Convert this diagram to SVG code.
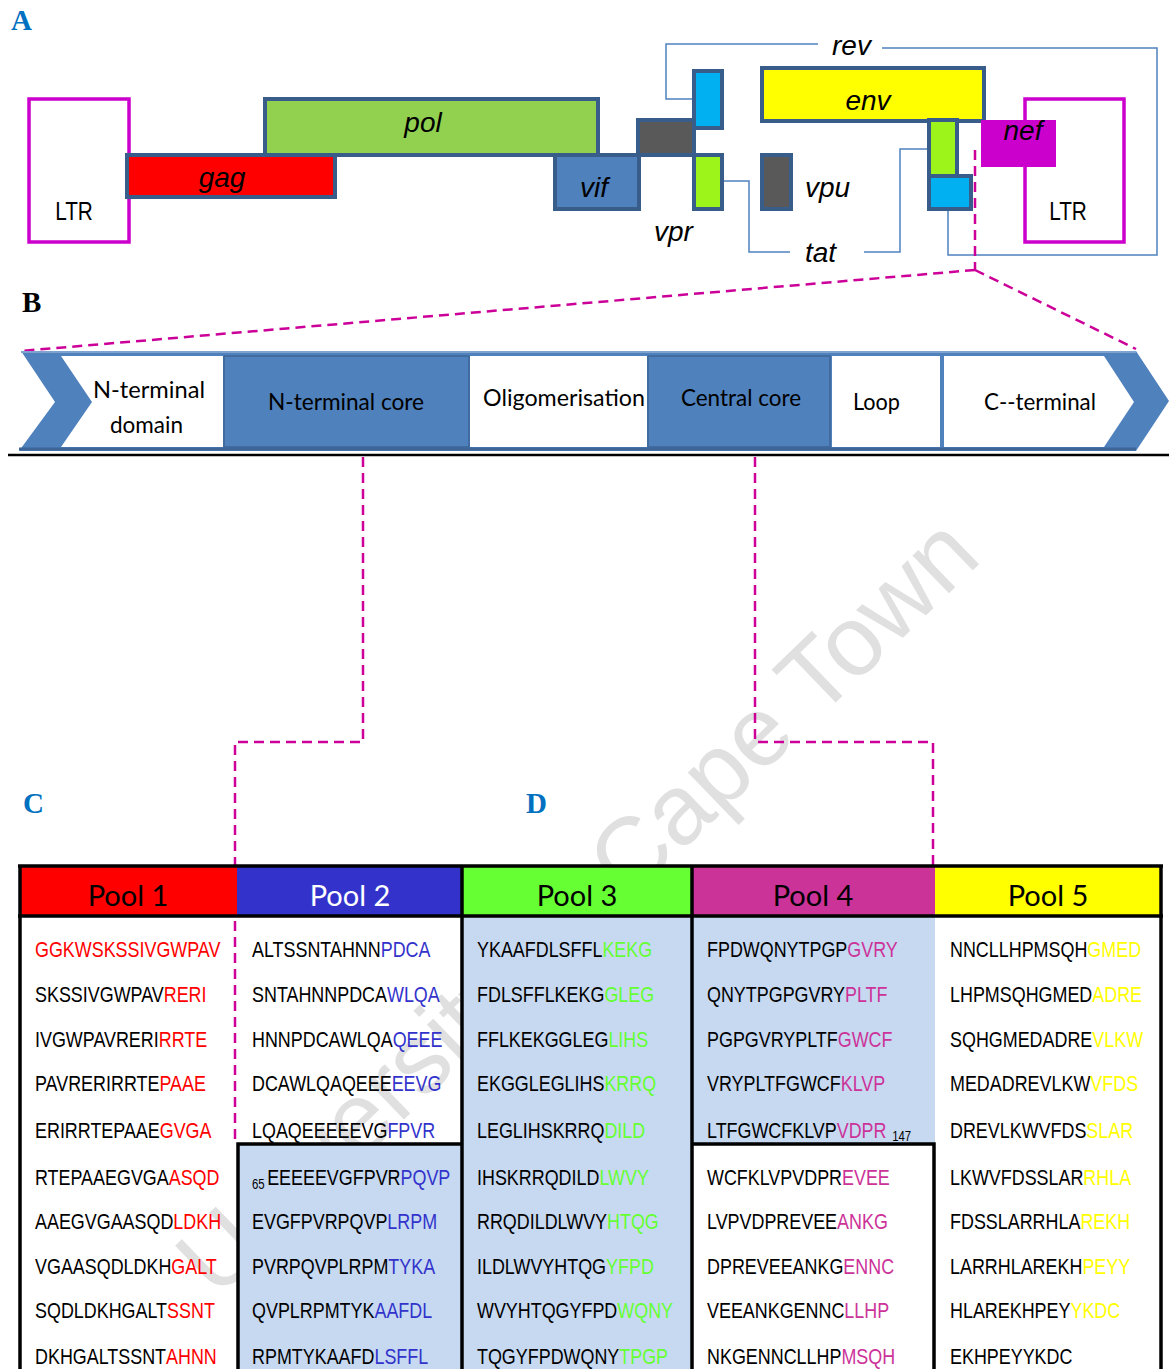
<svg xmlns="http://www.w3.org/2000/svg" width="1169" height="1369" viewBox="0 0 1169 1369">
<defs>
<style>
.gene{stroke:#385D8A;stroke-width:4;}
.ltr{fill:#FFFFFF;stroke:#CC00CC;stroke-width:3.5;}
.gl{font-family:"Liberation Sans",Arial,sans-serif;font-style:italic;font-size:28px;fill:#000;}
.ltrt{font-family:"Liberation Sans",Arial,sans-serif;font-size:26px;fill:#000;}
.conn{fill:none;stroke:#4F81BD;stroke-width:1.5;}
.dash{fill:none;stroke:#CC0099;stroke-width:2.5;stroke-dasharray:10 6;}
.panel{font-family:"Liberation Serif","Times New Roman",serif;font-weight:bold;font-size:29px;}
.bt{font-family:Lato,"Liberation Sans",sans-serif;font-size:23px;fill:#000;}
.hd{font-family:Lato,"Liberation Sans",sans-serif;font-size:29px;text-anchor:middle;}
.sq{font-family:"Liberation Sans",Arial,sans-serif;font-size:22px;fill:#000;}
.sub{font-size:14px;}
.tb{stroke:#000;stroke-width:3.5;fill:none;}
.c1{fill:#FF0000;}.c2{fill:#3333CC;}.c3{fill:#66FF33;}.c4{fill:#CC3399;}.c5{fill:#FFFF00;}
</style>
</defs>
<rect x="0" y="0" width="1169" height="1369" fill="#FFFFFF"/>

<!-- watermark -->
<text transform="translate(217,1300) rotate(-44)" font-family="Liberation Sans,sans-serif" font-size="99" fill="#E0E0E0">University of Cape Town</text>

<!-- panel labels -->
<text class="panel" x="11" y="30" fill="#0070C0">A</text>
<text class="panel" x="22" y="312" fill="#000">B</text>
<text class="panel" x="23" y="813" fill="#0070C0">C</text>
<text class="panel" x="526" y="813" fill="#0070C0">D</text>

<!-- Part A genome -->
<g id="connectors-a">
<polyline class="conn" points="694,99 666,99 666,44 818,44"/>
<polyline class="conn" points="882,48 1157,48 1157,255 948,255 948,209"/>
<polyline class="conn" points="722,181 749,181 749,252 790,252"/>
<polyline class="conn" points="864,252 900,252 900,149 929,149"/>
</g>
<g id="ltr-left"><rect class="ltr" x="29" y="99" width="100" height="143"/><text class="ltrt" transform="translate(74 220) scale(0.8 1)" text-anchor="middle">LTR</text></g>
<g id="pol"><rect class="gene" x="265" y="99" width="333" height="56" fill="#92D050"/><text class="gl" x="423" y="132" text-anchor="middle">pol</text></g>
<g id="gag"><rect class="gene" x="127" y="155" width="208" height="42" fill="#FF0000"/><text class="gl" x="222" y="187" text-anchor="middle">gag</text></g>
<g id="vif"><rect class="gene" x="555" y="155" width="84" height="54" fill="#4F81BD"/><text class="gl" x="594" y="197" text-anchor="middle">vif</text></g>
<g id="grey-box"><rect class="gene" x="638" y="120" width="56" height="35" fill="#595959"/></g>
<g id="rev-exon1"><rect class="gene" x="694" y="71" width="28" height="57" fill="#00B0F0"/></g>
<g id="vpr"><rect class="gene" x="694" y="155" width="28" height="54" fill="#9CF41A"/><text class="gl" x="654" y="241">vpr</text></g>
<g id="vpu"><rect class="gene" x="762" y="155" width="29" height="54" fill="#595959"/><text class="gl" x="805" y="197">vpu</text></g>
<g id="env"><rect class="gene" x="762" y="68" width="222" height="53" fill="#FFFF00"/><text class="gl" x="868" y="110" text-anchor="middle">env</text></g>
<g id="tat-exon2"><rect class="gene" x="929" y="120" width="28" height="56" fill="#9CF41A"/></g>
<g id="rev-exon2"><rect class="gene" x="929" y="176" width="42" height="33" fill="#00B0F0"/></g>
<g id="rev-label"><text class="gl" x="832" y="55">rev</text></g>
<g id="tat-label"><text class="gl" x="805" y="262">tat</text></g>
<g id="ltr-right"><rect class="ltr" x="1025" y="99" width="99" height="143"/><text class="ltrt" transform="translate(1068 220) scale(0.8 1)" text-anchor="middle">LTR</text></g>
<g id="nef"><rect x="981" y="120" width="75" height="47" fill="#CC00CC"/><text class="gl" x="1023" y="140" text-anchor="middle">nef</text></g>

<!-- zoom dashed lines -->
<g id="connectors">
<polyline class="dash" points="975,150 975,270"/>
<polyline class="dash" points="975,270 21,351"/>
<polyline class="dash" points="975,270 1136,349"/>
<polyline class="dash" points="363,457 363,742 235,742 235,1142"/>
<polyline class="dash" points="755,457 755,742 933,742 933,1142"/>
</g>

<!-- Part B band -->
<g id="band">
<polygon points="21,351 1136,351 1169,401 1136,451 19,451 55,402" fill="#4F81BD"/>
<line x1="21" y1="352" x2="1136" y2="352" stroke="#7FA3D1" stroke-width="2"/>
<line x1="19" y1="449" x2="1136" y2="449" stroke="#3D6597" stroke-width="3"/>
</g>
<g id="n-terminal-domain"><polygon points="61,356 223,356 223,447 61,447 92,402" fill="#FFFFFF"/>
<text class="bt" x="93" y="398" textLength="112" lengthAdjust="spacingAndGlyphs">N-terminal</text>
<text class="bt" x="110" y="433" textLength="73" lengthAdjust="spacingAndGlyphs">domain</text></g>
<g id="n-terminal-core"><rect x="224" y="356" width="245" height="91" fill="#4F81BD" stroke="#3D6597" stroke-width="1.5"/>
<text class="bt" x="268" y="410" fill="#15243F" textLength="156" lengthAdjust="spacingAndGlyphs">N-terminal core</text></g>
<g id="oligomerisation"><rect x="470" y="356" width="177" height="91" fill="#FFFFFF"/>
<text class="bt" x="483" y="406" textLength="162" lengthAdjust="spacingAndGlyphs">Oligomerisation</text></g>
<g id="central-core"><rect x="648" y="356" width="182" height="91" fill="#4F81BD" stroke="#3D6597" stroke-width="1.5"/>
<text class="bt" x="681" y="406" fill="#15243F" textLength="120" lengthAdjust="spacingAndGlyphs">Central core</text></g>
<g id="loop"><rect x="832" y="356" width="108" height="91" fill="#FFFFFF"/>
<text class="bt" x="853" y="410" textLength="47" lengthAdjust="spacingAndGlyphs">Loop</text></g>
<g id="c-terminal"><polygon points="944,356 1104,356 1134,402 1104,447 944,447" fill="#FFFFFF"/>
<text class="bt" x="984" y="410" textLength="112" lengthAdjust="spacingAndGlyphs">C--terminal</text></g>
<line x1="8" y1="455" x2="1169" y2="455" stroke="#000" stroke-width="2.5"/>

<!-- Table -->
<g id="table-fills">
<rect x="20" y="866" width="217" height="50" fill="#FF0000"/>
<rect x="237" y="866" width="225" height="50" fill="#3333CC"/>
<rect x="462" y="866" width="230" height="50" fill="#66FF33"/>
<rect x="692" y="866" width="243" height="50" fill="#CC3399"/>
<rect x="935" y="866" width="226" height="50" fill="#FFFF00"/>
<rect x="462" y="916" width="230" height="453" fill="#C6D9F1"/>
<rect x="692" y="916" width="243" height="228" fill="#C6D9F1"/>
<rect x="238" y="1144" width="224" height="225" fill="#C6D9F1"/>
</g>
<g id="table-lines">
<line class="tb" x1="18" y1="866" x2="1163" y2="866"/>
<line class="tb" x1="18" y1="916" x2="1163" y2="916"/>
<line class="tb" x1="20" y1="866" x2="20" y2="1369"/>
<line class="tb" x1="1161" y1="866" x2="1161" y2="1369"/>
<line class="tb" x1="462" y1="866" x2="462" y2="1369"/>
<line class="tb" x1="692" y1="866" x2="692" y2="1369"/>
<polyline class="tb" points="238,1369 238,1144 462,1144"/>
<polyline class="tb" points="692,1144 934,1144 934,1369"/>
</g>
<g id="headers">
<text class="hd" x="128" y="906" fill="#000">Pool 1</text>
<text class="hd" x="350" y="906" fill="#FFFFFF">Pool 2</text>
<text class="hd" x="577" y="906" fill="#000">Pool 3</text>
<text class="hd" x="813" y="906" fill="#000">Pool 4</text>
<text class="hd" x="1048" y="906" fill="#000">Pool 5</text>
</g>
<g id="pool1" class="sq" transform="translate(35 0) scale(0.815 1)">
<text x="0" y="957"><tspan class="c1">GGKWSKSSIVGWPAV</tspan></text>
<text x="0" y="1002">SKSSIVGWPAV<tspan class="c1">RERI</tspan></text>
<text x="0" y="1047">IVGWPAVRERI<tspan class="c1">RRTE</tspan></text>
<text x="0" y="1091">PAVRERIRRTE<tspan class="c1">PAAE</tspan></text>
<text x="0" y="1138">ERIRRTEPAAE<tspan class="c1">GVGA</tspan></text>
<text x="0" y="1185">RTEPAAEGVGA<tspan class="c1">ASQD</tspan></text>
<text x="0" y="1229">AAEGVGAASQD<tspan class="c1">LDKH</tspan></text>
<text x="0" y="1274">VGAASQDLDKH<tspan class="c1">GALT</tspan></text>
<text x="0" y="1318">SQDLDKHGALT<tspan class="c1">SSNT</tspan></text>
<text x="0" y="1364">DKHGALTSSNT<tspan class="c1">AHNN</tspan></text>
</g>
<g id="pool2" class="sq" transform="translate(252 0) scale(0.815 1)">
<text x="0" y="957">ALTSSNTAHNN<tspan class="c2">PDCA</tspan></text>
<text x="0" y="1002">SNTAHNNPDCA<tspan class="c2">WLQA</tspan></text>
<text x="0" y="1047">HNNPDCAWLQA<tspan class="c2">QEEE</tspan></text>
<text x="0" y="1091">DCAWLQAQEEE<tspan class="c2">EEVG</tspan></text>
<text x="0" y="1138">LQAQEEEEEVG<tspan class="c2">FPVR</tspan></text>
<text x="0" y="1185"><tspan class="sub" dy="4">65</tspan><tspan dx="3" dy="-4">EEEEEVGFPVR</tspan><tspan class="c2">PQVP</tspan></text>
<text x="0" y="1229">EVGFPVRPQVP<tspan class="c2">LRPM</tspan></text>
<text x="0" y="1274">PVRPQVPLRPM<tspan class="c2">TYKA</tspan></text>
<text x="0" y="1318">QVPLRPMTYK<tspan class="c2">AAFDL</tspan></text>
<text x="0" y="1364">RPMTYKAAFD<tspan class="c2">LSFFL</tspan></text>
</g>
<g id="pool3" class="sq" transform="translate(477 0) scale(0.815 1)">
<text x="0" y="957">YKAAFDLSFFL<tspan class="c3">KEKG</tspan></text>
<text x="0" y="1002">FDLSFFLKEKG<tspan class="c3">GLEG</tspan></text>
<text x="0" y="1047">FFLKEKGGLEG<tspan class="c3">LIHS</tspan></text>
<text x="0" y="1091">EKGGLEGLIHS<tspan class="c3">KRRQ</tspan></text>
<text x="0" y="1138">LEGLIHSKRRQ<tspan class="c3">DILD</tspan></text>
<text x="0" y="1185">IHSKRRQDILD<tspan class="c3">LWVY</tspan></text>
<text x="0" y="1229">RRQDILDLWVY<tspan class="c3">HTQG</tspan></text>
<text x="0" y="1274">ILDLWVYHTQG<tspan class="c3">YFPD</tspan></text>
<text x="0" y="1318">WVYHTQGYFPD<tspan class="c3">WQNY</tspan></text>
<text x="0" y="1364">TQGYFPDWQNY<tspan class="c3">TPGP</tspan></text>
</g>
<g id="pool4" class="sq" transform="translate(707 0) scale(0.815 1)">
<text x="0" y="957">FPDWQNYTPGP<tspan class="c4">GVRY</tspan></text>
<text x="0" y="1002">QNYTPGPGVRY<tspan class="c4">PLTF</tspan></text>
<text x="0" y="1047">PGPGVRYPLTF<tspan class="c4">GWCF</tspan></text>
<text x="0" y="1091">VRYPLTFGWCF<tspan class="c4">KLVP</tspan></text>
<text x="0" y="1138">LTFGWCFKLVP<tspan class="c4">VDPR</tspan><tspan class="sub" dx="7" dy="3">147</tspan></text>
<text x="0" y="1185">WCFKLVPVDPR<tspan class="c4">EVEE</tspan></text>
<text x="0" y="1229">LVPVDPREVEE<tspan class="c4">ANKG</tspan></text>
<text x="0" y="1274">DPREVEEANKG<tspan class="c4">ENNC</tspan></text>
<text x="0" y="1318">VEEANKGENNC<tspan class="c4">LLHP</tspan></text>
<text x="0" y="1364">NKGENNCLLHP<tspan class="c4">MSQH</tspan></text>
</g>
<g id="pool5" class="sq" transform="translate(950 0) scale(0.815 1)">
<text x="0" y="957">NNCLLHPMSQH<tspan class="c5">GMED</tspan></text>
<text x="0" y="1002">LHPMSQHGMED<tspan class="c5">ADRE</tspan></text>
<text x="0" y="1047">SQHGMEDADRE<tspan class="c5">VLKW</tspan></text>
<text x="0" y="1091">MEDADREVLKW<tspan class="c5">VFDS</tspan></text>
<text x="0" y="1138">DREVLKWVFDS<tspan class="c5">SLAR</tspan></text>
<text x="0" y="1185">LKWVFDSSLAR<tspan class="c5">RHLA</tspan></text>
<text x="0" y="1229">FDSSLARRHLA<tspan class="c5">REKH</tspan></text>
<text x="0" y="1274">LARRHLAREKH<tspan class="c5">PEYY</tspan></text>
<text x="0" y="1318">HLAREKHPEY<tspan class="c5">YKDC</tspan></text>
<text x="0" y="1364">EKHPEYYKDC</text>
</g>
</svg>
